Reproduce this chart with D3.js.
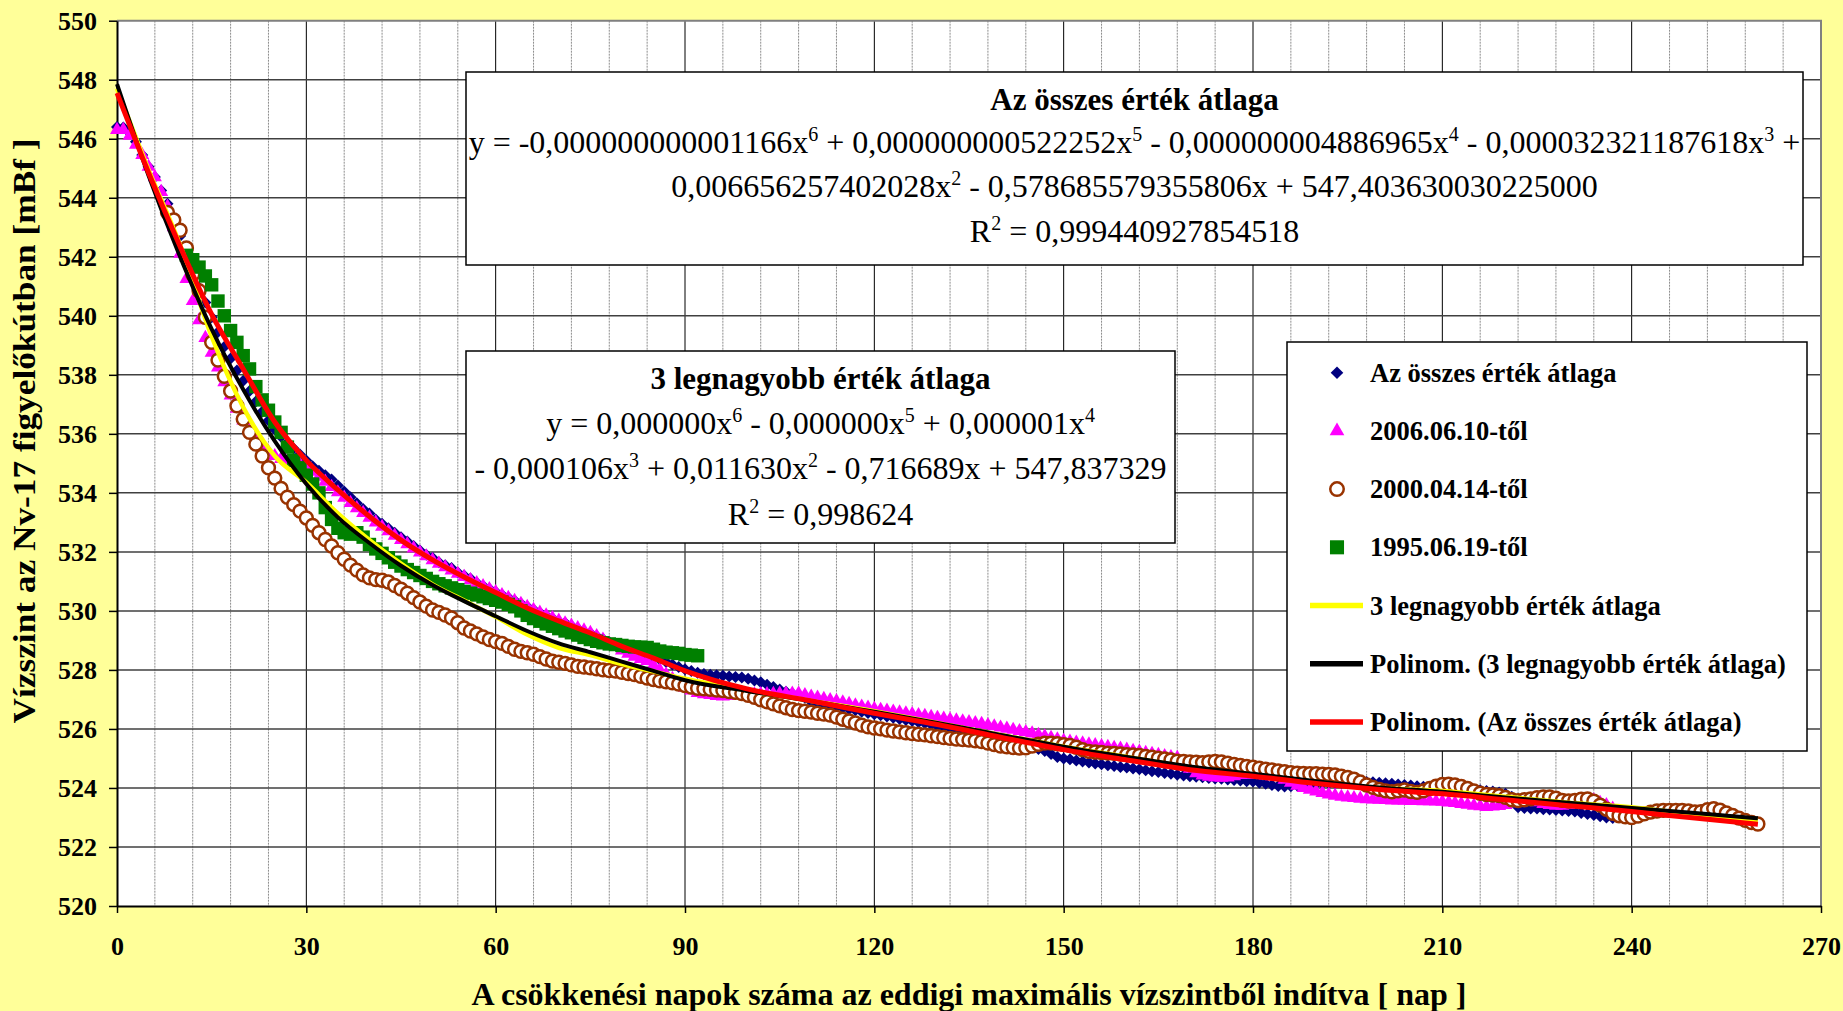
<!DOCTYPE html>
<html>
<head>
<meta charset="utf-8">
<script src="https://cdn.jsdelivr.net/npm/d3@7"></script>
<style>
  body { margin: 0; background: #ffff99; }
  svg { display: block; }
  text { font-family: "Times New Roman", "Liberation Serif", serif; white-space: pre; }
</style>
</head>
<body>
<svg id="chart" width="1843" height="1011"></svg>
<script>

// ---- data ----
var xTicks = [0, 30, 60, 90, 120, 150, 180, 210, 240, 270];
var yTicks = [520, 522, 524, 526, 528, 530, 532, 534, 536, 538, 540, 542, 544, 546, 548, 550];

// Az összes érték átlaga (navy diamonds), one value per day from day 0
var avgAllStart = 0;
var avgAllValues = [
    546.40, 546.38, 546.20, 545.90, 545.45, 545.05, 544.70, 544.25, 543.80, 543.25,
    542.70, 542.15, 541.55, 540.95, 540.45, 539.95, 539.45, 538.95, 538.55, 538.15,
    537.80, 537.45, 537.10, 536.75, 536.45, 536.15, 535.90, 535.70, 535.50, 535.30,
    535.10, 534.90, 534.75, 534.60, 534.45, 534.25, 534.05, 533.85, 533.65, 533.45,
    533.30, 533.10, 532.95, 532.80, 532.65, 532.50, 532.35, 532.20, 532.05, 531.90,
    531.80, 531.65, 531.55, 531.45, 531.30, 531.20, 531.10, 530.95, 530.85, 530.75,
    530.65, 530.55, 530.45, 530.35, 530.25, 530.15, 530.05, 529.95, 529.85, 529.75,
    529.65, 529.60, 529.50, 529.40, 529.30, 529.25, 529.15, 529.05, 528.95, 528.85,
    528.80, 528.72, 528.65, 528.57, 528.50, 528.42, 528.35, 528.27, 528.18, 528.10,
    528.02, 527.96, 527.90, 527.86, 527.84, 527.82, 527.80, 527.78, 527.76, 527.74,
    527.70, 527.64, 527.58, 527.50, 527.42, 527.34, 527.26, 527.20, 527.14, 527.06,
    526.92, 526.88, 526.84, 526.80, 526.76, 526.72, 526.67, 526.63, 526.58, 526.54,
    526.50, 526.46, 526.42, 526.38, 526.34, 526.30, 526.27, 526.23, 526.19, 526.15,
    526.10, 526.06, 526.02, 525.97, 525.93, 525.88, 525.84, 525.79, 525.75, 525.70,
    525.65, 525.60, 525.55, 525.50, 525.45, 525.40, 525.32, 525.25, 525.15, 525.05,
    525.00, 524.97, 524.93, 524.90, 524.86, 524.83, 524.80, 524.77, 524.74, 524.71,
    524.69, 524.66, 524.63, 524.60, 524.57, 524.54, 524.51, 524.48, 524.45, 524.42,
    524.40, 524.38, 524.36, 524.34, 524.32, 524.31, 524.29, 524.27, 524.25, 524.23,
    524.22, 524.18, 524.14, 524.10, 524.07, 524.05, 524.06, 524.08, 524.10, 524.12,
    524.14, 524.15, 524.16, 524.17, 524.18, 524.19, 524.20, 524.20, 524.20, 524.19,
    524.18, 524.16, 524.14, 524.12, 524.10, 524.08, 524.06, 524.04, 524.03, 524.02,
    524.00, 523.99, 523.98, 523.96, 523.95, 523.93, 523.92, 523.90, 523.88, 523.85,
    523.80, 523.70, 523.35, 523.32, 523.30, 523.30, 523.28, 523.27, 523.25, 523.24,
    523.22, 523.20, 523.15, 523.12, 523.08, 523.04, 523.00, 522.98
];

// 2006.06.10-től (magenta triangles)
var from2006Start = 0;
var from2006Values = [
    546.30, 546.30, 546.10, 545.80, 545.45, 545.05, 544.70, 544.20, 543.70, 543.00,
    542.10, 541.25, 540.50, 539.85, 539.25, 538.75, 538.25, 537.75, 537.30, 536.85,
    536.45, 536.10, 535.80, 535.55, 535.38, 535.25, 535.15, 535.08, 535.02, 534.96,
    534.88, 534.72, 534.55, 534.38, 534.20, 534.02, 533.84, 533.66, 533.48, 533.32,
    533.16, 533.00, 532.85, 532.70, 532.55, 532.40, 532.26, 532.12, 531.98, 531.85,
    531.72, 531.60, 531.48, 531.37, 531.26, 531.15, 531.04, 530.94, 530.84, 530.74,
    530.64, 530.54, 530.44, 530.34, 530.24, 530.14, 530.04, 529.94, 529.85, 529.76,
    529.67, 529.58, 529.50, 529.42, 529.34, 529.26, 529.15, 529.03, 528.90, 528.78,
    528.66, 528.55, 528.45, 528.37, 528.30, 528.16, 528.00, 527.85, 527.70, 527.55,
    527.40, 527.30, 527.22, 527.18, 527.15, 527.12, 527.10, 527.12, 527.14, 527.15,
    527.16, 527.17, 527.18, 527.18, 527.19, 527.20, 527.20, 527.20, 527.20, 527.15,
    527.10, 527.06, 527.02, 526.98, 526.94, 526.90, 526.85, 526.80, 526.76, 526.72,
    526.68, 526.65, 526.62, 526.59, 526.56, 526.53, 526.50, 526.47, 526.44, 526.41,
    526.38, 526.35, 526.32, 526.29, 526.26, 526.23, 526.20, 526.17, 526.13, 526.09,
    526.05, 526.01, 525.97, 525.93, 525.89, 525.85, 525.80, 525.75, 525.70, 525.65,
    525.60, 525.57, 525.54, 525.51, 525.48, 525.45, 525.42, 525.39, 525.36, 525.33,
    525.30, 525.26, 525.23, 525.19, 525.16, 525.12, 525.08, 525.05, 525.02, 524.85,
    524.65, 524.50, 524.42, 524.38, 524.36, 524.35, 524.36, 524.40, 524.44, 524.46,
    524.45, 524.44, 524.42, 524.40, 524.38, 524.28, 524.18, 524.08, 524.00, 523.94,
    523.88, 523.83, 523.78, 523.74, 523.70, 523.68, 523.66, 523.64, 523.62, 523.61,
    523.60, 523.59, 523.58, 523.58, 523.57, 523.56, 523.56, 523.55, 523.55, 523.54,
    523.53, 523.51, 523.49, 523.46, 523.43, 523.40, 523.38, 523.36, 523.37, 523.39,
    523.42, 523.48, 523.55, 523.60, 523.58, 523.52, 523.46, 523.42, 523.40, 523.40,
    523.42, 523.48, 523.55, 523.60, 523.58, 523.50, 523.42, 523.30, 523.20
];

// 2000.04.14-től (brown open circles), starts at day 8
var from2000Start = 8;
var from2000Values = [
    543.50, 543.25, 542.90, 542.30, 541.40, 540.85, 539.95, 539.10, 538.50, 537.95, 537.45, 536.95,
    536.50, 536.05, 535.65, 535.25, 534.85, 534.50, 534.15, 533.85, 533.60, 533.38,
    533.15, 532.90, 532.65, 532.42, 532.20, 531.97, 531.75, 531.55, 531.38, 531.22,
    531.12, 531.06, 531.04, 530.98, 530.86, 530.74, 530.60, 530.45, 530.30, 530.16,
    530.03, 529.95, 529.86, 529.76, 529.60, 529.42, 529.32, 529.22, 529.12, 529.03,
    528.96, 528.90, 528.80, 528.70, 528.63, 528.58, 528.53, 528.45, 528.37, 528.30,
    528.26, 528.22, 528.17, 528.12, 528.10, 528.07, 528.04, 528.00, 527.98, 527.96,
    527.92, 527.88, 527.84, 527.78, 527.72, 527.67, 527.63, 527.60, 527.56, 527.52,
    527.47, 527.42, 527.38, 527.36, 527.34, 527.32, 527.30, 527.27, 527.24, 527.20,
    527.14, 527.07, 526.99, 526.92, 526.85, 526.78, 526.72, 526.66, 526.62, 526.60,
    526.57, 526.53, 526.50, 526.47, 526.40, 526.33, 526.27, 526.20, 526.13, 526.07,
    526.03, 526.00, 525.96, 525.93, 525.90, 525.87, 525.84, 525.82, 525.80, 525.77,
    525.74, 525.71, 525.68, 525.66, 525.64, 525.62, 525.60, 525.57, 525.52, 525.47,
    525.42, 525.39, 525.37, 525.35, 525.36, 525.42, 525.48, 525.52, 525.52, 525.50,
    525.47, 525.44, 525.38, 525.30, 525.24, 525.22, 525.20, 525.18, 525.17, 525.15,
    525.13, 525.12, 525.10, 525.07, 525.04, 525.01, 524.98, 524.95, 524.91, 524.90,
    524.88, 524.87, 524.86, 524.88, 524.90, 524.88, 524.84, 524.80, 524.76, 524.73,
    524.70, 524.67, 524.64, 524.61, 524.58, 524.55, 524.52, 524.50, 524.49, 524.48,
    524.48, 524.47, 524.46, 524.44, 524.40, 524.36, 524.30, 524.20, 524.10, 524.02,
    523.95, 523.90, 523.87, 523.90, 523.93, 523.88, 523.85, 523.90, 523.98, 524.06,
    524.12, 524.13, 524.10, 524.05, 523.98, 523.90, 523.82, 523.78, 523.76, 523.74,
    523.68, 523.60, 523.57, 523.60, 523.63, 523.67, 523.70, 523.70, 523.65, 523.58,
    523.56, 523.58, 523.62, 523.63, 523.55, 523.42, 523.28, 523.14, 523.06, 523.02,
    523.00, 523.05, 523.12, 523.18, 523.22, 523.24, 523.24, 523.24, 523.24, 523.22,
    523.19, 523.20, 523.26, 523.30, 523.25, 523.15, 523.07, 522.98, 522.90, 522.83, 522.78
];

// 1995.06.19-től (green squares), starts at day 11
var from1995Start = 11;
var from1995Values = [
    542.05, 541.90, 541.65, 541.35, 541.05, 540.50, 540.00, 539.50, 539.10,
    538.65, 538.20, 537.60, 537.15, 536.80, 536.40, 536.05, 535.55, 535.10, 534.85,
    534.60, 534.30, 534.00, 533.50, 533.10, 532.80, 532.65, 532.60, 532.65, 532.50,
    532.25, 532.10, 531.95, 531.80, 531.65, 531.52, 531.40, 531.30, 531.20, 531.10,
    531.00, 530.92, 530.85, 530.78, 530.72, 530.66, 530.60, 530.54, 530.48, 530.42,
    530.36, 530.30, 530.22, 530.14, 530.00, 529.85, 529.74, 529.65, 529.56, 529.48,
    529.40, 529.32, 529.26, 529.18, 529.10, 529.03, 528.97, 528.92, 528.88, 528.86,
    528.83, 528.80, 528.78, 528.77, 528.76, 528.70, 528.64, 528.60, 528.58, 528.56,
    528.52, 528.50, 528.48
];

// line series and the two polynomial trendlines, read at these days
var lineDays = [0, 5, 10, 15, 20, 25, 30, 35, 40, 45, 50, 55, 60, 65, 70, 75, 80, 85, 90,
    100, 110, 120, 130, 140, 150, 160, 170, 180, 190, 200, 210, 220, 230, 240, 250, 260];
var top3Values = [547.70, 544.95, 542.40, 539.30, 536.90, 535.25, 534.35, 533.30, 532.40, 531.60,
    530.90, 530.35, 529.80, 529.20, 528.75, 528.50, 528.20, 527.95, 527.70,
    527.30, 526.95, 526.60, 526.20, 525.80, 525.40, 525.05, 524.70, 524.45, 524.20, 524.00,
    523.90, 523.70, 523.50, 523.35, 523.10, 522.90];
var top3Trend = [547.85, 544.75, 542.00, 539.55, 537.50, 535.75, 534.30, 533.17, 532.30, 531.53,
    530.88, 530.33, 529.82, 529.32, 528.90, 528.60, 528.28, 527.97, 527.65,
    527.28, 526.95, 526.58, 526.20, 525.80, 525.40, 525.05, 524.73, 524.48, 524.23, 524.02,
    523.87, 523.68, 523.50, 523.32, 523.15, 522.97];
var avgAllTrend = [547.55, 544.85, 542.35, 540.05, 538.20, 536.40, 535.10, 534.10, 533.20, 532.40,
    531.73, 531.15, 530.62, 530.10, 529.66, 529.25, 528.80, 528.40, 527.97,
    527.35, 526.95, 526.53, 526.15, 525.72, 525.30, 524.95, 524.62, 524.40, 524.15, 523.95,
    523.80, 523.60, 523.40, 523.20, 522.98, 522.77];

var legendLabels = ["Az összes érték átlaga", "2006.06.10-től", "2000.04.14-től", "1995.06.19-től",
    "3 legnagyobb érték átlaga", "Polinom. (3 legnagyobb érték átlaga)", "Polinom. (Az összes érték átlaga)"];

// ---- chart ----
var svg = d3.select("#chart");
var font = "'Times New Roman', 'Liberation Serif', serif";

var x = d3.scaleLinear().domain([0, 270]).range([117, 1821]);
var y = d3.scaleLinear().domain([520, 550]).range([906, 20.7]);

svg.append("rect").attr("width", 1843).attr("height", 1011).attr("fill", "#ffff99");
svg.append("rect")
    .attr("x", x(0)).attr("y", y(550))
    .attr("width", x(270) - x(0)).attr("height", y(520) - y(550))
    .attr("fill", "#fff");

// grid
var grid = svg.append("g");
grid.selectAll("line.minor")
    .data(d3.range(6, 270, 6).filter(function (d) { return d % 30 !== 0; }))
    .join("line")
    .attr("x1", function (d) { return x(d); }).attr("x2", function (d) { return x(d); })
    .attr("y1", y(550)).attr("y2", y(520))
    .attr("stroke", "#8c8c8c").attr("stroke-width", 1).attr("stroke-dasharray", "2,1");
grid.selectAll("line.major")
    .data(xTicks.slice(1, -1))
    .join("line")
    .attr("x1", function (d) { return x(d); }).attr("x2", function (d) { return x(d); })
    .attr("y1", y(550)).attr("y2", y(520))
    .attr("stroke", "#000").attr("stroke-width", 1);
grid.selectAll("line.h")
    .data(yTicks.slice(1, -1))
    .join("line")
    .attr("x1", x(0)).attr("x2", x(270))
    .attr("y1", function (d) { return y(d); }).attr("y2", function (d) { return y(d); })
    .attr("stroke", "#404040").attr("stroke-width", 1.5);
// top and right frame
grid.append("path")
    .attr("d", "M" + x(0) + "," + y(550) + "H" + x(270) + "V" + y(520))
    .attr("fill", "none").attr("stroke", "#808080").attr("stroke-width", 2);

// axes
var styleAxis = function (g) {
    g.attr("font-family", font).attr("font-size", 26).attr("font-weight", "bold");
    g.select(".domain").attr("stroke", "#000").attr("stroke-width", 2);
    g.selectAll(".tick line").attr("stroke", "#000").attr("stroke-width", 1.5);
    g.selectAll(".tick text").attr("fill", "#000");
};
svg.append("g")
    .attr("transform", "translate(" + x(0) + ",0)")
    .call(d3.axisLeft(y).tickValues(yTicks).tickSize(8).tickSizeOuter(0).tickPadding(12))
    .call(styleAxis);
svg.append("g")
    .attr("transform", "translate(0," + y(520) + ")")
    .call(d3.axisBottom(x).tickValues(xTicks).tickSize(7).tickSizeOuter(0).tickPadding(24))
    .call(styleAxis);

svg.append("text")
    .attr("x", (x(0) + x(270)) / 2).attr("y", 1005)
    .attr("text-anchor", "middle")
    .style("font-size", "32px").style("font-weight", "bold")
    .text("A csökkenési napok száma az eddigi maximális vízszintből indítva [ nap ]");
svg.append("text")
    .attr("transform", "translate(35,431) rotate(-90)")
    .attr("text-anchor", "middle")
    .attr("textLength", 585).attr("lengthAdjust", "spacingAndGlyphs")
    .style("font-size", "32px").style("font-weight", "bold")
    .text("Vízszint az Nv-17 figyelőkútban [mBf ]");

// markers
var squareDiamond = {
    draw: function (ctx, size) {
        var r = Math.sqrt(size / 2);
        ctx.moveTo(0, -r); ctx.lineTo(r, 0); ctx.lineTo(0, r); ctx.lineTo(-r, 0); ctx.closePath();
    }
};
var markerStyles = [
    { type: squareDiamond, size: 72, fill: "#000080", stroke: "none" },
    { type: d3.symbolTriangle, size: 85, fill: "#ff00ff", stroke: "none" },
    { type: d3.symbolCircle, size: 130, fill: "#fff", stroke: "#993300" },
    { type: d3.symbolSquare, size: 180, fill: "#008000", stroke: "none" }
];
var toPoints = function (start, values) {
    return values.map(function (v, i) { return { day: start + i, value: v }; });
};
var markerSeries = [
    toPoints(avgAllStart, avgAllValues),
    toPoints(from2006Start, from2006Values),
    toPoints(from2000Start, from2000Values),
    toPoints(from1995Start, from1995Values)
];

var marks = svg.append("g");
markerSeries.forEach(function (pts, k) {
    var st = markerStyles[k];
    marks.append("g").selectAll("path")
        .data(pts)
        .join("path")
        .attr("transform", function (d) { return "translate(" + x(d.day) + "," + y(d.value) + ")"; })
        .attr("d", d3.symbol().type(st.type).size(st.size))
        .attr("fill", st.fill)
        .attr("stroke", st.stroke)
        .attr("stroke-width", 2.5);
});

// line series + trendlines
var lineOf = function (values) {
    return d3.line()
        .x(function (d, i) { return x(lineDays[i]); })
        .y(function (d) { return y(d); })
        .curve(d3.curveMonotoneX)(values);
};
var lines = [
    { values: top3Values, color: "#ffff00", width: 4.5 },
    { values: top3Trend, color: "#000", width: 4 },
    { values: avgAllTrend, color: "#ff0000", width: 5 }
];
lines.forEach(function (l) {
    svg.append("path")
        .attr("d", lineOf(l.values))
        .attr("fill", "none")
        .attr("stroke", l.color)
        .attr("stroke-width", l.width);
});

// equation boxes
var drawBox = function (b, rows) {
    var g = svg.append("g");
    g.append("rect")
        .attr("x", b.x0).attr("y", b.y0)
        .attr("width", b.x1 - b.x0).attr("height", b.y1 - b.y0)
        .attr("fill", "#fff").attr("stroke", "#000").attr("stroke-width", 1.5);
    rows.forEach(function (r) {
        var t = g.append("text")
            .attr("x", (b.x0 + b.x1) / 2).attr("y", r.y)
            .attr("text-anchor", "middle")
            .style("font-size", r.bold ? "31px" : "32px")
            .style("font-weight", r.bold ? "bold" : "normal");
        var raised = false;
        r.parts.forEach(function (p) {
            if (typeof p === "string") {
                t.append("tspan").attr("dy", raised ? 12 : null).text(p);
                raised = false;
            } else {
                t.append("tspan").attr("dy", -12).style("font-size", "20px").text(p.sup);
                raised = true;
            }
        });
    });
};

drawBox({ x0: 466, y0: 72, x1: 1803, y1: 265 }, [
    { y: 110, bold: true, parts: ["Az összes érték átlaga"] },
    { y: 153, parts: ["y = -0,000000000001166x", { sup: "6" }, " + 0,000000000522252x", { sup: "5" },
        " - 0,000000004886965x", { sup: "4" }, " - 0,000032321187618x", { sup: "3" }, " +"] },
    { y: 197, parts: ["0,006656257402028x", { sup: "2" }, " - 0,578685579355806x + 547,403630030225000"] },
    { y: 242, parts: ["R", { sup: "2" }, " = 0,999440927854518"] }
]);
drawBox({ x0: 466, y0: 351, x1: 1175, y1: 543 }, [
    { y: 389, bold: true, parts: ["3 legnagyobb érték átlaga"] },
    { y: 434, parts: ["y = 0,000000x", { sup: "6" }, " - 0,000000x", { sup: "5" }, " + 0,000001x", { sup: "4" }] },
    { y: 479, parts: ["- 0,000106x", { sup: "3" }, " + 0,011630x", { sup: "2" }, " - 0,716689x + 547,837329"] },
    { y: 525, parts: ["R", { sup: "2" }, " = 0,998624"] }
]);

// legend
var legend = svg.append("g");
legend.append("rect")
    .attr("x", 1287).attr("y", 342).attr("width", 520).attr("height", 409)
    .attr("fill", "#fff").attr("stroke", "#000").attr("stroke-width", 1.5);
var legendLines = [{ color: "#ffff00" }, { color: "#000" }, { color: "#ff0000" }];
legendLabels.forEach(function (label, i) {
    var cy = 372.7 + i * 58.2;
    if (i < 4) {
        var st = markerStyles[i];
        legend.append("path")
            .attr("transform", "translate(1337," + cy + ")")
            .attr("d", d3.symbol().type(st.type).size(st.size * 1.1))
            .attr("fill", st.fill).attr("stroke", st.stroke).attr("stroke-width", 2.5);
    } else {
        legend.append("line")
            .attr("x1", 1310).attr("x2", 1363).attr("y1", cy).attr("y2", cy)
            .attr("stroke", legendLines[i - 4].color).attr("stroke-width", 5.5);
    }
    legend.append("text")
        .attr("x", 1370).attr("y", cy + 9)
        .style("font-size", "26.5px").style("font-weight", "bold")
        .text(label);
});
</script>
</body>
</html>
